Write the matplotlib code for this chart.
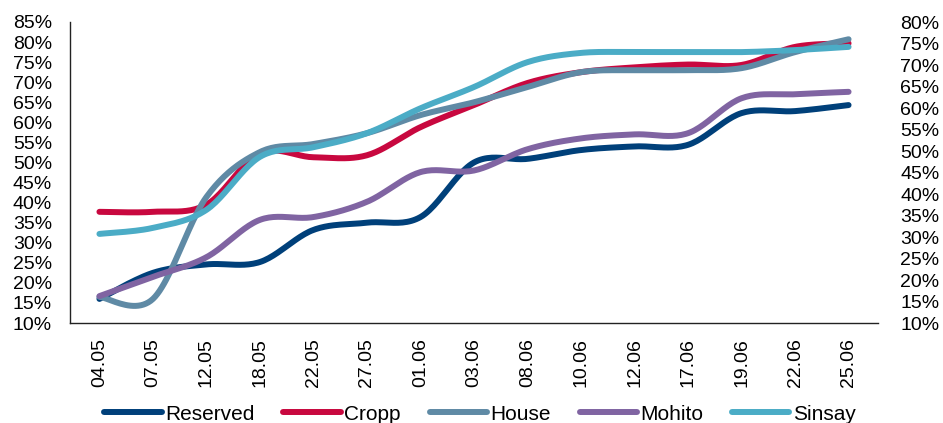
import numpy as np
import matplotlib
matplotlib.use("Agg")
import matplotlib.pyplot as plt
from matplotlib.ticker import FuncFormatter

plt.rcParams['font.family'] = ['Liberation Sans', 'DejaVu Sans']

# Dates and weekly shares (%)
dates = ["04.05", "07.05", "12.05", "18.05", "22.05", "27.05", "01.06", "03.06",
         "08.06", "10.06", "12.06", "17.06", "19.06", "22.06", "25.06"]
reserved = [16, 22.5, 24.6, 25.2, 33.2, 35, 36.4, 50, 50.9, 53.1, 54, 54.4, 62.3, 62.8, 64.3]
cropp = [37.7, 37.7, 39.5, 52.3, 51.3, 51.8, 58.8, 64.3, 69.8, 72.5, 73.7, 74.4, 74.3, 78.8, 79.7]
house = [16.5, 16, 41.4, 52.6, 54.6, 57.3, 61.8, 65, 68.8, 72.5, 73, 73, 73.5, 77.5, 80.7]
mohito = [16.7, 21.5, 26.4, 35.7, 36.4, 40.2, 47.6, 48, 53.3, 56, 57, 57.3, 66, 67, 67.6]
sinsay = [32.2, 33.7, 38.2, 51.4, 53.8, 57.3, 63.5, 68.8, 75, 77.3, 77.5, 77.5, 77.5, 78, 78.8]

series = [
    ("Reserved", reserved, "#00407a"),
    ("Cropp", cropp, "#c8083f"),
    ("House", house, "#5f8aa5"),
    ("Mohito", mohito, "#8064a2"),
    ("Sinsay", sinsay, "#4bacc6"),
]


def smooth(x, y, n=25):
    # Excel-style smoothed line: cubic bezier with catmull-rom control points
    x = np.asarray(x, float)
    y = np.asarray(y, float)
    px = np.concatenate([[x[0]], x, [x[-1]]])
    py = np.concatenate([[y[0]], y, [y[-1]]])
    t = np.linspace(0, 1, n)
    xs, ys = [], []
    for i in range(1, len(px) - 2):
        p0 = np.array([px[i], py[i]])
        p3 = np.array([px[i + 1], py[i + 1]])
        c1 = p0 + (np.array([px[i + 1], py[i + 1]]) - np.array([px[i - 1], py[i - 1]])) / 6
        c2 = p3 - (np.array([px[i + 2], py[i + 2]]) - np.array([px[i], py[i]])) / 6
        b = ((1 - t) ** 3)[:, None] * p0 + (3 * (1 - t) ** 2 * t)[:, None] * c1 \
            + (3 * (1 - t) * t ** 2)[:, None] * c2 + (t ** 3)[:, None] * p3
        xs.append(b[:, 0])
        ys.append(b[:, 1])
    return np.concatenate(xs), np.concatenate(ys)


fig = plt.figure(figsize=(9.43, 4.23), dpi=100)
ax = fig.add_axes([70 / 943, 1 - 323 / 423, 808 / 943, 301 / 423])

xpos = np.arange(len(dates))
for name, vals, color in series:
    sx, sy = smooth(xpos, vals)
    ax.plot(sx, sy, color=color, lw=4.3, solid_capstyle='round', label=name)

ax.set_xlim(-0.55, len(dates) - 0.45)
ax.set_ylim(10, 85)
ax.set_yticks(np.arange(10, 86, 5))
ax.yaxis.set_major_formatter(FuncFormatter(lambda v, p: f"{v:.0f}%"))
ax.set_xticks(xpos)
ax.set_xticklabels(dates, rotation=90)
ax.tick_params(axis='y', length=0, pad=13, labelsize=14)
ax.tick_params(axis='x', length=0, pad=11, labelsize=14)
for s in ["top", "right"]:
    ax.spines[s].set_visible(False)
for s in ["left", "bottom"]:
    ax.spines[s].set_color("#222222")
    ax.spines[s].set_linewidth(1.0)

ax2 = ax.twinx()
ax2.set_ylim(10, 80)
ax2.set_yticks(np.arange(10, 81, 5))
ax2.yaxis.set_major_formatter(FuncFormatter(lambda v, p: f"{v:.0f}%"))
ax2.tick_params(axis='y', length=0, pad=16, labelsize=14)
for s in ax2.spines.values():
    s.set_visible(False)

handles, labels = ax.get_legend_handles_labels()
fig.legend(handles, labels, loc='center', bbox_to_anchor=(480 / 943, 1 - 414 / 423),
           ncol=5, frameon=False, fontsize=15, handlelength=2.75,
           handletextpad=0.15, columnspacing=1.4)

fig.savefig("out.png", dpi=100)
